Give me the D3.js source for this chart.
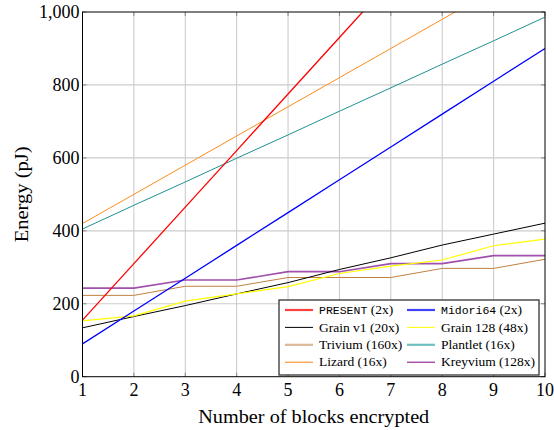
<!DOCTYPE html>
<html><head><meta charset="utf-8">
<script src="https://cdn.jsdelivr.net/npm/d3@7/dist/d3.min.js"></script>
<style>body{margin:0;background:#fff}svg{display:block}</style>
</head><body><svg id="c" width="554" height="430"></svg>
<script>
const blocks = [1,2,3,4,5,6,7,8,9,10];
const present  = [155,310,465,620,775,930,1085,1240,1395,1550];
const midori64 = [90,180,270,360,450,540,630,720,810,900];
const grainV1  = [134,165,195,227,258,294,326,361,391,421];
const grain128 = [153,167,207,227,247,283,303,320,359,377];
const trivium  = [223,223,248,248,272,272,272,297,297,322];
const plantlet = [405,470,534,599,663,728,792,857,921,986];
const lizard   = [420,500,580,660,740,820,900,980,1060,1140];
const kreyvium = [243,243,265,265,288,288,310,310,332,332];
const yTicks = [0,200,400,600,800,1000];

const series = [
  {name:"PRESENT", suffix:" (2x)", mono:true, vals:present, color:"#ff0000", w:1.3, lc:"#ff4040", lw:2.2},
  {name:"Midori64", suffix:" (2x)", mono:true, vals:midori64, color:"#0000ff", w:1.3, lc:"#4040ff", lw:2.2},
  {name:"Grain v1 (20x)", vals:grainV1, color:"#000000", w:1, lc:"#000", lw:1},
  {name:"Grain 128 (48x)", vals:grain128, color:"#ffff00", w:1.2, lc:"#ffff00", lw:1},
  {name:"Trivium (160x)", vals:trivium, color:"#c08040", w:1, lc:"#dcb896", lw:2.2},
  {name:"Plantlet (16x)", vals:plantlet, color:"#209090", w:1, lc:"#70c0c0", lw:2.2},
  {name:"Lizard (16x)", vals:lizard, color:"#ff8c1a", w:1, lc:"#ff8010", lw:1},
  {name:"Kreyvium (128x)", vals:kreyvium, color:"#a050ac", w:1.6, lc:"#800080", lw:1}
];

const svg = d3.select("#c");
const L=82.5, R=545, T=12, B=376.7;
const x = d3.scaleLinear().domain([1,10]).range([L,R]);
const y = d3.scaleLinear().domain([0,1000]).range([B,T]);
const serif = "'Liberation Serif','DejaVu Serif',serif";

// grid
const g = svg.append("g");
g.selectAll(".vx").data(blocks.slice(1,-1)).join("line")
  .attr("x1",d=>x(d)).attr("x2",d=>x(d)).attr("y1",T).attr("y2",B)
  .attr("stroke","#c8c8c8").attr("stroke-width",1);
g.selectAll(".hy").data(yTicks.slice(1,-1)).join("line")
  .attr("y1",d=>y(d)).attr("y2",d=>y(d)).attr("x1",L).attr("x2",R)
  .attr("stroke","#cccccc").attr("stroke-width",1.2);
// ticks inside
g.selectAll(".tx").data(blocks).join("line")
  .attr("x1",d=>x(d)).attr("x2",d=>x(d)).attr("y1",B).attr("y2",B-4).attr("stroke","#888");
g.selectAll(".tx2").data(blocks).join("line")
  .attr("x1",d=>x(d)).attr("x2",d=>x(d)).attr("y1",T).attr("y2",T+4).attr("stroke","#888");
g.selectAll(".ty").data(yTicks).join("line")
  .attr("y1",d=>y(d)).attr("y2",d=>y(d)).attr("x1",L).attr("x2",L+4).attr("stroke","#888");
g.selectAll(".ty2").data(yTicks).join("line")
  .attr("y1",d=>y(d)).attr("y2",d=>y(d)).attr("x1",R).attr("x2",R-4).attr("stroke","#888");

// clip
svg.append("clipPath").attr("id","cp").append("rect")
  .attr("x",L).attr("y",T).attr("width",R-L).attr("height",B-T);

const line = d3.line().x((d,i)=>x(blocks[i])).y(d=>y(d));
const lg = svg.append("g").attr("clip-path","url(#cp)");
const order = [4,7,2,3,1,5,6,0];
order.forEach(i=>{
  const s = series[i];
  lg.append("path").attr("d",line(s.vals)).attr("fill","none")
    .attr("stroke",s.color).attr("stroke-width",s.w);
});

// frame
svg.append("rect").attr("x",L).attr("y",T).attr("width",R-L).attr("height",B-T)
  .attr("fill","none").attr("stroke","#000").attr("stroke-width",1);

// axes labels
svg.append("g").selectAll("text").data(blocks).join("text")
  .attr("x",d=>x(d)).attr("y",B+19).attr("text-anchor","middle")
  .attr("font-family",serif).attr("font-size",18).text(d=>d);
svg.append("g").selectAll("text").data(yTicks).join("text")
  .attr("x",L-3).attr("y",d=>y(d)+6).attr("text-anchor","end")
  .attr("font-family",serif).attr("font-size",18).text(d=>d3.format(",")(d));
svg.append("text").attr("x",(L+R)/2).attr("y",422.5).attr("text-anchor","middle")
  .attr("font-family",serif).attr("font-size",18.5)
  .attr("textLength",231).attr("lengthAdjust","spacingAndGlyphs").text("Number of blocks encrypted");
svg.append("text").attr("transform",`translate(28,${(T+B)/2}) rotate(-90)`)
  .attr("text-anchor","middle").attr("font-family",serif).attr("font-size",18.5)
  .attr("textLength",96).attr("lengthAdjust","spacingAndGlyphs").text("Energy (pJ)");

// legend
const lgx=279, lgy=300, lgw=260, lgh=75;
const leg = svg.append("g");
leg.append("rect").attr("x",lgx).attr("y",lgy).attr("width",lgw).attr("height",lgh)
  .attr("fill","#fff").attr("stroke","#333").attr("stroke-width",1.3);
series.forEach((s,i)=>{
  const col=i%2, row=Math.floor(i/2);
  const x0 = col===0?285:407, yy = 310+row*17.4;
  leg.append("line").attr("x1",x0).attr("x2",x0+28).attr("y1",yy).attr("y2",yy)
    .attr("stroke",s.lc).attr("stroke-width",s.lw);
  const t = leg.append("text").attr("x",x0+34).attr("y",yy+4.2)
    .attr("font-family",serif).attr("font-size",13.5);
  if(s.mono){
    t.append("tspan").attr("font-family","'Liberation Mono','DejaVu Sans Mono',monospace").attr("font-size",11.5).text(s.name);
    t.append("tspan").text(s.suffix);
  } else t.text(s.name);
});
</script></body></html>
